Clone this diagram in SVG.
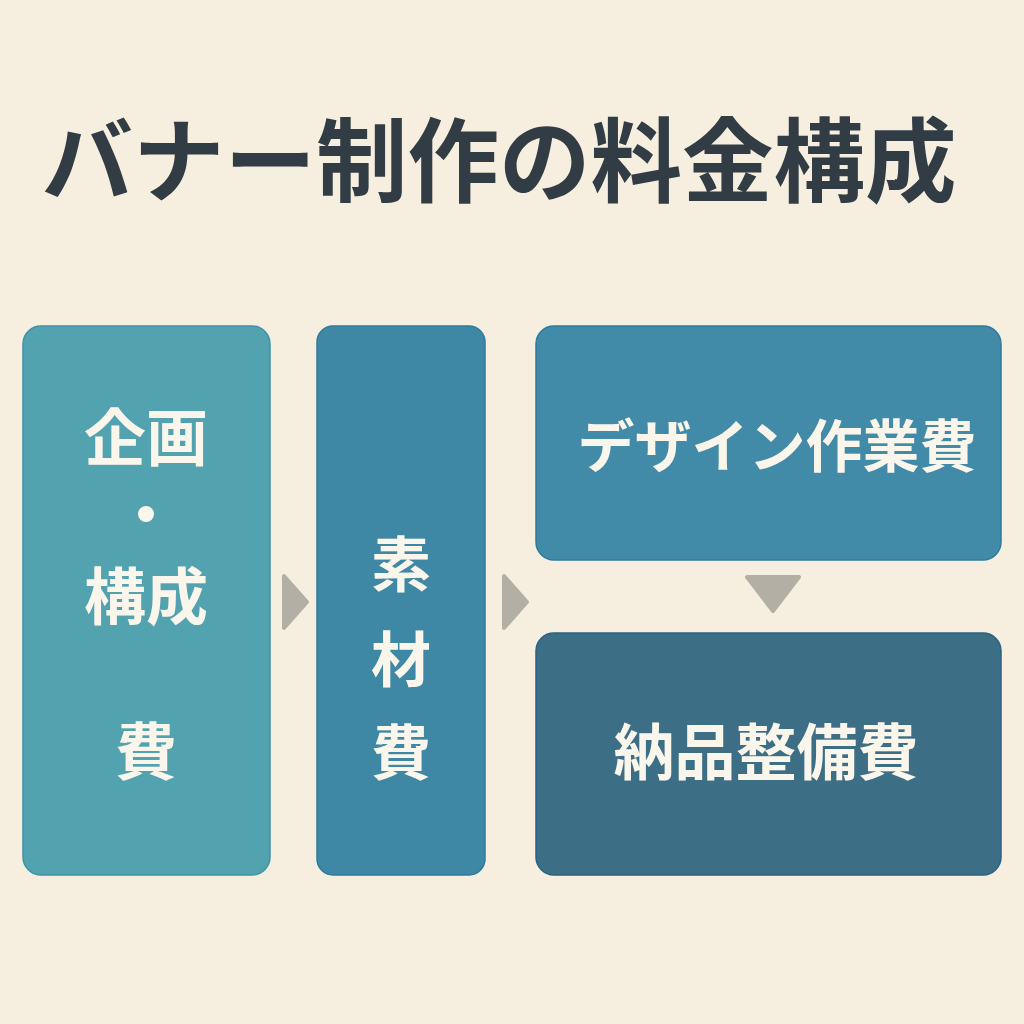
<svg xmlns="http://www.w3.org/2000/svg" width="1024" height="1024" viewBox="0 0 1024 1024">
<style>
.t{font-family:"Noto Sans CJK JP","Noto Sans CJK SC",sans-serif;font-weight:700;fill:#fbf6ec;text-anchor:middle}
.arr{fill:#b3afa5;stroke:#b3afa5;stroke-width:4;stroke-linejoin:round}
</style>
<rect width="1024" height="1024" fill="#f6efe0"/>
<text x="499" y="195" font-family="Noto Sans CJK JP, sans-serif" font-weight="700" font-size="91.5" fill="#323c44" text-anchor="middle">バナー制作の料金構成</text>
<g id="node1">
<rect x="23" y="326" width="247" height="549" rx="18" fill="#52a2b0" stroke="#3f93a6" stroke-width="1.5"/>
<text class="t" x="146" y="461" font-size="62">企画</text>
<circle cx="146" cy="514" r="8" fill="#fbf6ec"/>
<text class="t" x="146" y="620" font-size="62">構成</text>
<text class="t" x="146" y="775" font-size="62">費</text>
</g>
<g id="node2">
<rect x="317" y="326" width="168" height="549" rx="16" fill="#3e88a5" stroke="#2f7b9c" stroke-width="1.5"/>
<text class="t" x="401" y="587" font-size="60">素</text>
<text class="t" x="401" y="682" font-size="60">材</text>
<text class="t" x="401" y="775" font-size="60">費</text>
</g>
<g id="node3">
<rect x="536" y="326" width="465" height="234" rx="18" fill="#418aa8" stroke="#2f7b9c" stroke-width="1.5"/>
<text class="t" x="777" y="467" font-size="57">デザイン作業費</text>
</g>
<g id="node4">
<rect x="536" y="633" width="465" height="242" rx="18" fill="#3c6e86" stroke="#2a6282" stroke-width="1.5"/>
<text class="t" x="766" y="775" font-size="61">納品整備費</text>
</g>
<g id="connectors">
<polygon class="arr" points="284,576 284,628 307,602"/>
<polygon class="arr" points="504,576 504,628 527,602"/>
<polygon class="arr" points="747,577 799,577 773,611"/>
</g>
</svg>
